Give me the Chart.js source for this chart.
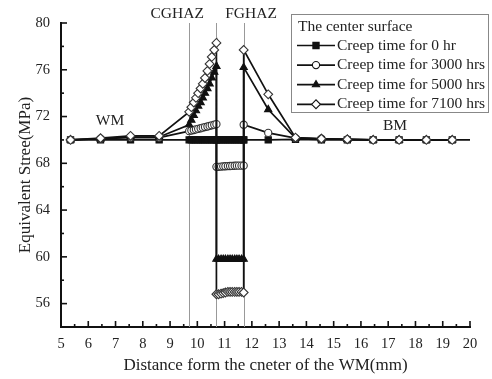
<!DOCTYPE html>
<html>
<head>
<meta charset="utf-8">
<script src="https://cdn.jsdelivr.net/npm/chart.js@4"></script>
<style>
  html, body { margin: 0; padding: 0; background: #fff; }
  #wrap { width: 492px; height: 379px; }
</style>
</head>
<body>
<div id="wrap"><canvas id="c" width="492" height="379"></canvas></div>
<script>
// x positions (mm) for each zone
const wmX = [5.35, 6.45, 7.55, 8.6];
const cgX = [9.7, 9.78, 9.87, 9.95, 10.03, 10.12, 10.2, 10.28, 10.37, 10.45, 10.53, 10.62, 10.7];
const fgX = [10.7, 10.78, 10.87, 10.95, 11.03, 11.12, 11.2, 11.28, 11.37, 11.45, 11.53, 11.62, 11.7];
const bmX = [11.7, 12.6, 13.6, 14.55, 15.5, 16.45, 17.4, 18.4, 19.35, 20];

// equivalent stress (MPa)
const hr0 = [70, 70, 70, 70,
  70, 70, 70, 70, 70, 70, 70, 70, 70, 70, 70, 70, 70,
  70, 70, 70, 70, 70, 70, 70, 70, 70, 70, 70, 70, 70,
  70, 70, 70.05, 70, 70, 70, 70, 70, 70, 70];
const hr3000 = [70.0, 70.1, 70.2, 70.2,
  70.75, 70.8, 70.85, 70.9, 70.95, 71.0, 71.05, 71.1, 71.15, 71.2, 71.25, 71.3, 71.35,
  67.7, 67.7, 67.72, 67.74, 67.75, 67.76, 67.77, 67.78, 67.79, 67.8, 67.8, 67.8, 67.8,
  71.3, 70.6, 70.15, 70.1, 70.05, 70.0, 70.0, 70.0, 70.0];
const hr5000 = [70.0, 70.1, 70.25, 70.25,
  71.3, 71.7, 72.1, 72.5, 72.9, 73.2, 73.6, 74.0, 74.4, 74.8, 75.3, 75.8, 76.3,
  59.8, 59.8, 59.8, 59.8, 59.8, 59.8, 59.8, 59.8, 59.8, 59.8, 59.8, 59.8, 59.8,
  76.2, 72.6, 70.15, 70.1, 70.05, 70.0, 70.0, 70.0, 70.0];
const hr7100 = [70.0, 70.15, 70.35, 70.35,
  72.4, 72.8, 73.2, 73.6, 74.0, 74.4, 74.8, 75.3, 75.9, 76.5, 77.1, 77.7, 78.3,
  56.8, 56.8, 56.85, 56.9, 56.95, 57.0, 57.0, 57.0, 57.0, 57.0, 57.0, 57.0, 56.95,
  77.7, 73.9, 70.2, 70.1, 70.05, 70.0, 70.0, 70.0, 70.0];

const seriesNames = ['Creep time for 0 hr', 'Creep time for 3000 hrs', 'Creep time for 5000 hrs', 'Creep time for 7100 hrs'];
const zoneBounds = [9.7, 10.7, 11.7];
const xTicks = [5, 20];
const yTicks = [54, 80];

const allX = [...wmX, ...cgX, ...fgX, ...bmX];
const toPts = vals => vals.map((v, i) => ({x: allX[i], y: v}));

const FONT = '"Liberation Serif", "DejaVu Serif", serif';
const INK = '#111';

const styles = [
  {pointStyle: 'rect', radius: 4.4, fill: INK},
  {pointStyle: 'circle', radius: 3.6, fill: '#fff'},
  {pointStyle: 'triangle', radius: 4.2, fill: INK},
  {pointStyle: 'rectRot', radius: 4.4, fill: '#fff'}
];

const datasets = [hr0, hr3000, hr5000, hr7100].map((vals, i) => ({
  label: seriesNames[i],
  data: toPts(vals),
  borderColor: INK,
  borderWidth: 1.7,
  backgroundColor: styles[i].fill,
  pointStyle: styles[i].pointStyle,
  pointRadius: ctx => (i === 0 && ctx.dataIndex === hr0.length - 1) ? 0 : styles[i].radius,
  pointBorderColor: i === 0 || i === 2 ? INK : '#333',
  pointBorderWidth: 1.1,
  pointBackgroundColor: styles[i].fill,
  fill: false,
  tension: 0,
  order: 3 - i
}));

// inner ticks, zone lines, labels, legend
const decor = {
  id: 'decor',
  beforeDatasetsDraw(chart) {
    const {ctx, chartArea: a, scales: {x, y}} = chart;
    ctx.save();
    ctx.strokeStyle = '#999';
    ctx.lineWidth = 1;
    zoneBounds.forEach(b => {
      const px = Math.round(x.getPixelForValue(b)) + 0.5;
      ctx.beginPath(); ctx.moveTo(px, a.top); ctx.lineTo(px, a.bottom); ctx.stroke();
    });
    ctx.restore();
  },
  afterDraw(chart) {
    const {ctx, chartArea: a, scales: {x, y}} = chart;
    ctx.save();
    ctx.strokeStyle = INK;
    ctx.lineWidth = 1.6;
    for (let v = xTicks[0]; v <= xTicks[1] + 1e-9; v += 0.5) {
      const px = x.getPixelForValue(v);
      const len = Number.isInteger(v) ? 6 : 3;
      ctx.beginPath(); ctx.moveTo(px, a.bottom); ctx.lineTo(px, a.bottom - len); ctx.stroke();
    }
    for (let v = yTicks[0]; v <= yTicks[1] + 1e-9; v += 2) {
      const py = y.getPixelForValue(v);
      const len = v % 4 === 0 ? 6 : 3;
      ctx.beginPath(); ctx.moveTo(a.left, py); ctx.lineTo(a.left + len, py); ctx.stroke();
    }

    ctx.fillStyle = '#222';
    ctx.textAlign = 'center';
    ctx.textBaseline = 'middle';
    ctx.font = '15.5px ' + FONT;
    ctx.fillText('CGHAZ', x.getPixelForValue(9.26), a.top - 9);
    ctx.fillText('FGHAZ', x.getPixelForValue(11.97), a.top - 9);
    ctx.fillText('WM', x.getPixelForValue(6.8), y.getPixelForValue(71.6));
    ctx.fillText('BM', x.getPixelForValue(17.25), y.getPixelForValue(71.2));

    // legend box
    const lx = 291, ly = 14, lw = 197, lh = 98;
    ctx.fillStyle = '#fff';
    ctx.fillRect(lx, ly, lw, lh);
    ctx.strokeStyle = '#888';
    ctx.lineWidth = 1;
    ctx.strokeRect(lx + 0.5, ly + 0.5, lw, lh);
    ctx.fillStyle = '#222';
    ctx.textAlign = 'left';
    ctx.font = '15.5px ' + FONT;
    ctx.fillText('The center surface', 298, 27);
    datasets.forEach((ds, i) => {
      const yy = 45.5 + i * 19.6;
      ctx.strokeStyle = INK;
      ctx.lineWidth = 1.7;
      ctx.beginPath(); ctx.moveTo(297, yy); ctx.lineTo(335, yy); ctx.stroke();
      ctx.fillStyle = styles[i].fill;
      ctx.strokeStyle = INK;
      ctx.lineWidth = 1.1;
      Chart.helpers.drawPoint(ctx, {pointStyle: styles[i].pointStyle, radius: styles[i].radius, borderWidth: 1.1}, 316, yy);
      ctx.fillStyle = '#222';
      ctx.fillText(ds.label, 337, yy);
    });
    ctx.restore();
  }
};

new Chart(document.getElementById('c'), {
  type: 'line',
  data: {datasets},
  options: {
    responsive: false,
    animation: false,
    events: [],
    layout: {padding: {top: 23, right: 22, left: 0, bottom: 0}},
    plugins: {legend: {display: false}, tooltip: {enabled: false}},
    scales: {
      x: {
        type: 'linear',
        min: xTicks[0], max: xTicks[1],
        afterFit: s => { s.height = 52; },
        grid: {display: false, drawTicks: false},
        border: {display: true, color: INK, width: 2},
        ticks: {stepSize: 1, padding: 8, color: '#222', font: {family: FONT, size: 14.5}},
        title: {display: true, text: 'Distance form the cneter of the WM(mm)', color: '#222',
                font: {family: FONT, size: 17}, padding: {top: 0, bottom: 3}}
      },
      y: {
        type: 'linear',
        min: yTicks[0], max: yTicks[1],
        afterFit: s => { s.width = 61; },
        grid: {display: false, drawTicks: false},
        border: {display: true, color: INK, width: 2},
        ticks: {stepSize: 2, padding: 11, color: '#222', font: {family: FONT, size: 14.5},
                callback: v => v % 4 === 0 ? v : ''},
        title: {display: true, text: 'Equivalent Stree(MPa)', color: '#222',
                font: {family: FONT, size: 17}, padding: {top: 15, bottom: 0}}
      }
    }
  },
  plugins: [decor]
});
</script>
</body>
</html>
